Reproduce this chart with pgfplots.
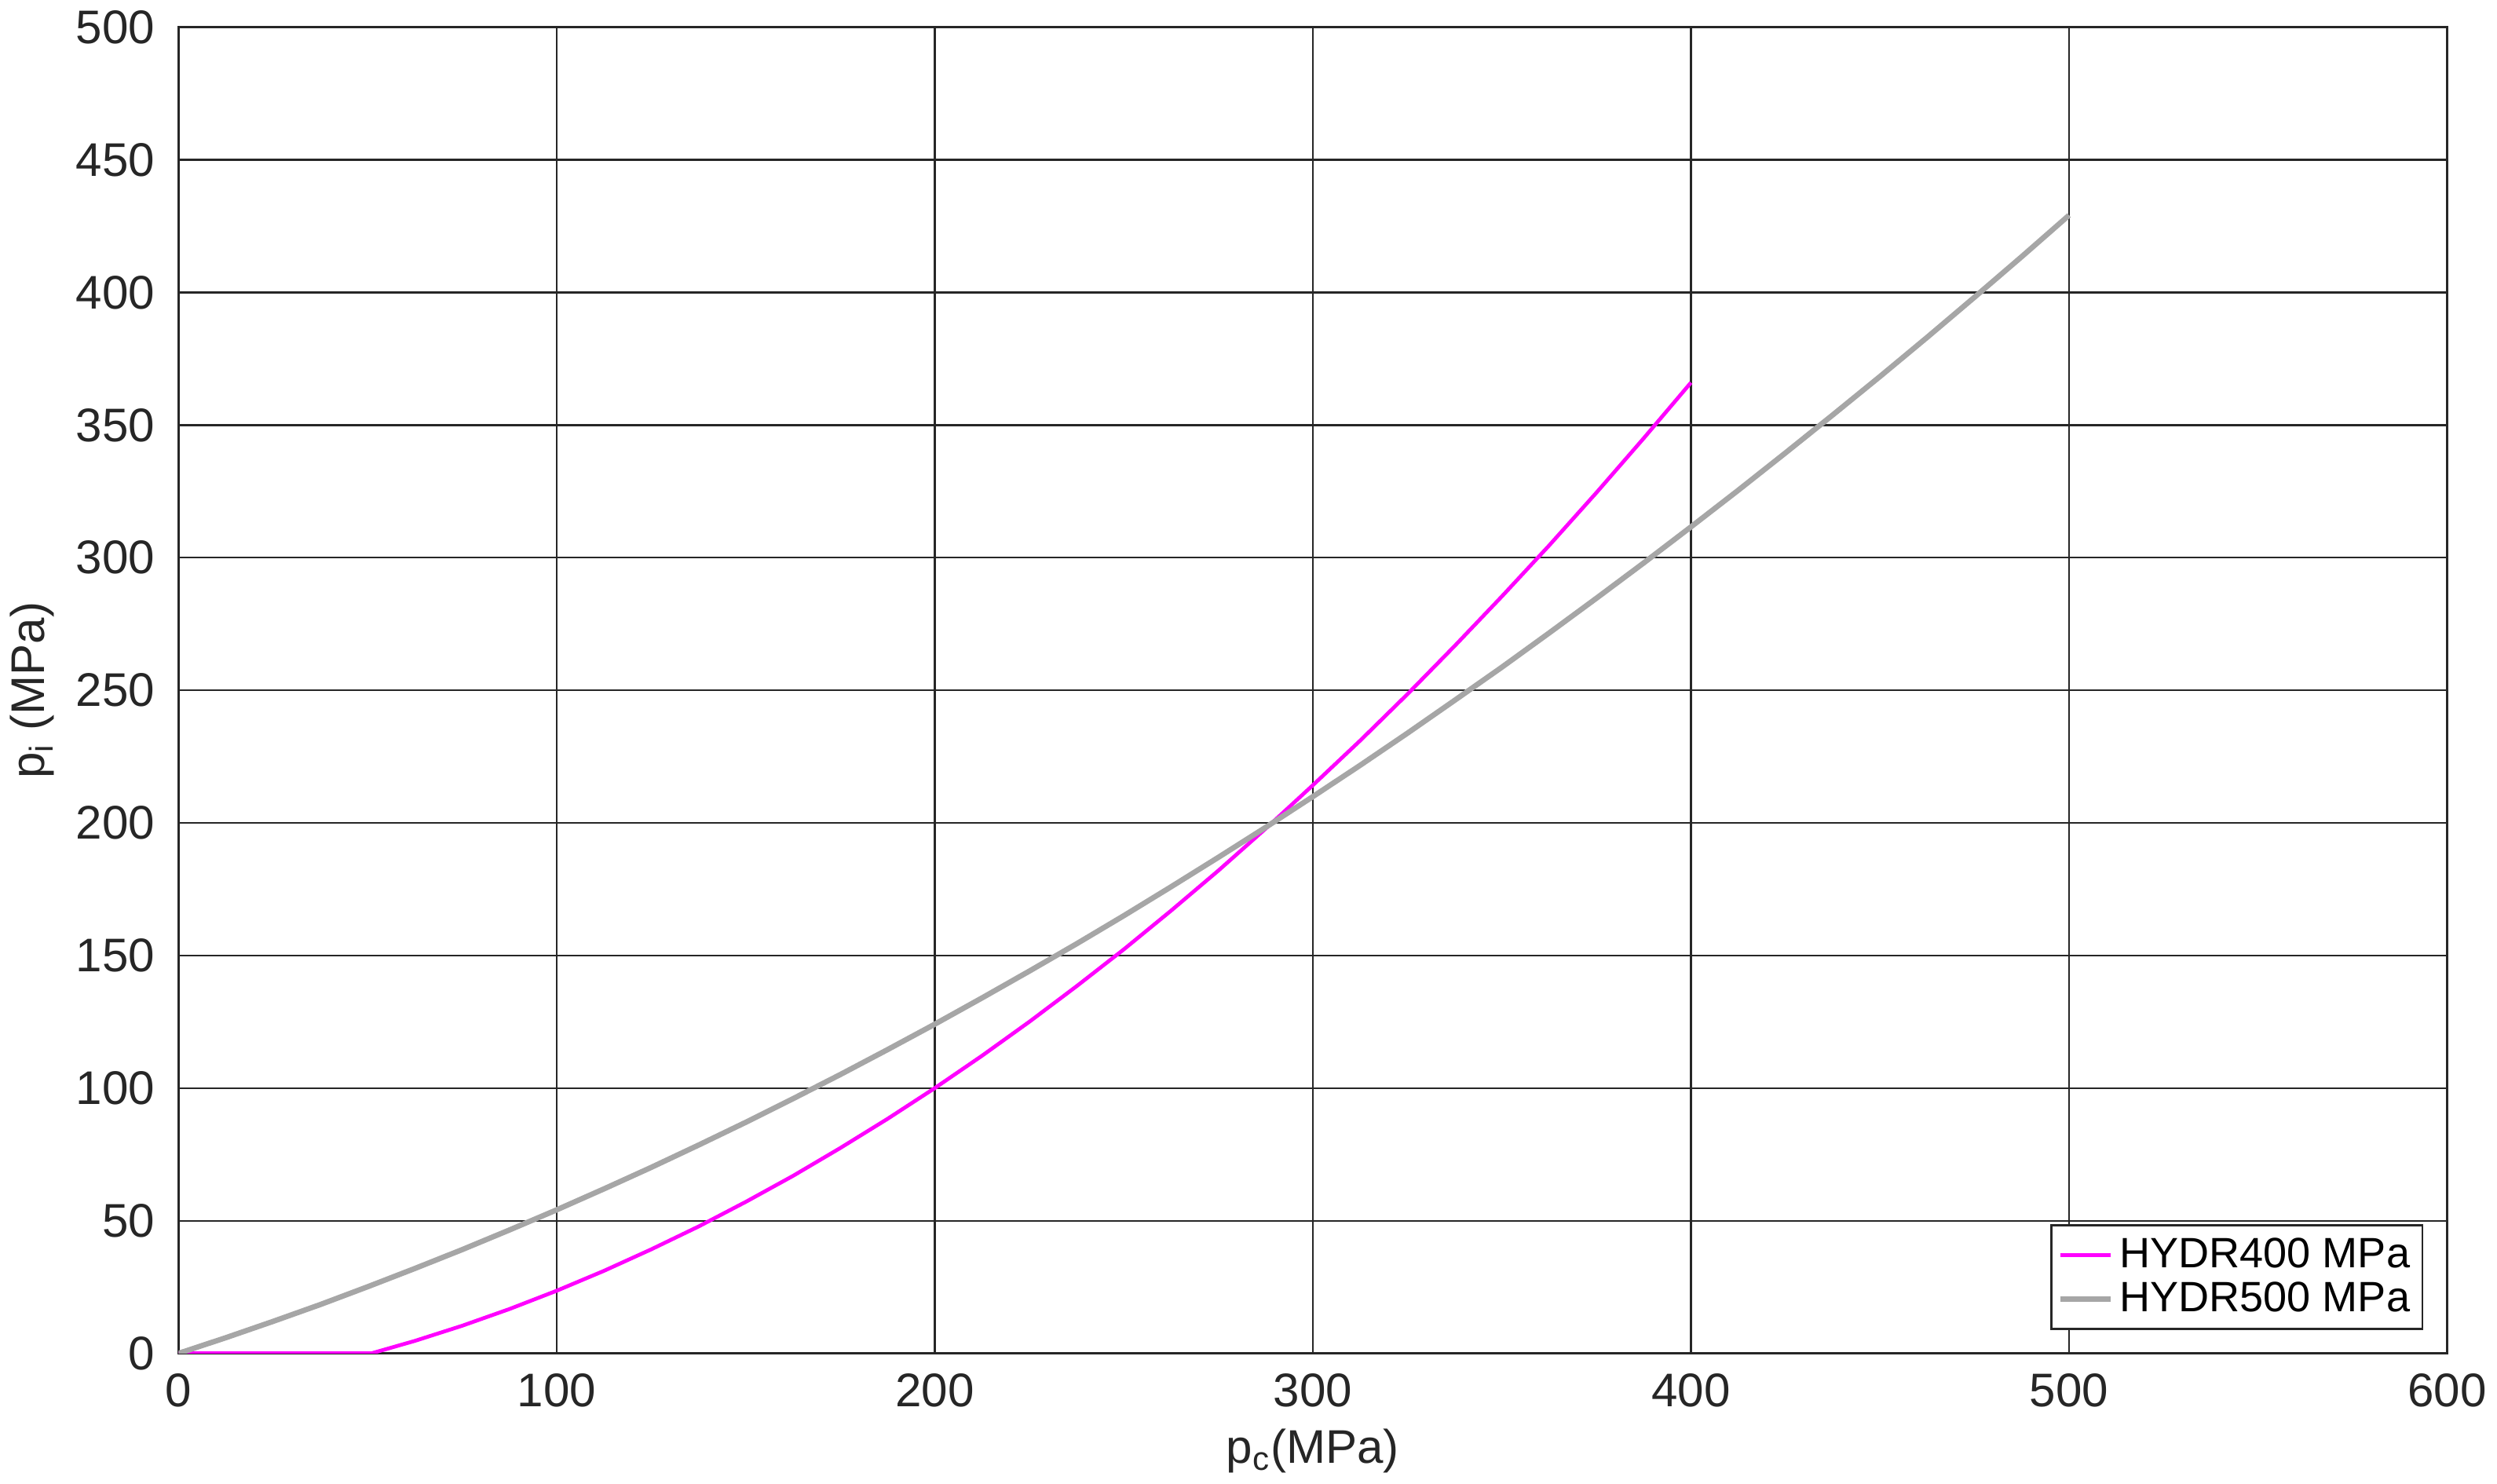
\documentclass[border=0pt]{standalone}
\usepackage{pgfplots}
\pgfplotsset{compat=1.18}
\usepackage{fontspec}
\setmainfont{Liberation Sans}
\definecolor{axgray}{HTML}{262626}
\definecolor{hydrgray}{HTML}{A6A6A6}
\definecolor{hydrmag}{HTML}{FF00FF}

\begin{document}
\begin{tikzpicture}
\begin{axis}[
    scale only axis,
    width=721pt, height=421.5pt,
    xmin=0, xmax=600, ymin=0, ymax=500,
    xtick distance=100, ytick distance=50,
    grid=major,
    grid style={line width=0.6pt, color=axgray},
    axis line style={line width=0.6pt, color=axgray},
    tick align=inside, major tick length=5pt,
    tick style={line width=0.6pt, color=axgray},
    /pgf/number format/assume math mode=true,
    tick label style={font=\fontsize{15}{18}\selectfont, color=axgray},
    xticklabel shift=3pt, yticklabel shift=4pt,
    label style={font=\fontsize{15}{18}\selectfont, color=axgray},
    xlabel={p\textsubscript{c}(MPa)},
    ylabel={p\textsubscript{i} (MPa)},
    legend style={font=\fontsize{13.5}{15.5}\selectfont, at={(0.9896,0.0178)}, anchor=south east,
        draw=axgray, line width=0.6pt, inner sep=2pt, row sep=-1pt},
    legend cell align=left,
    legend image code/.code={\draw[#1] (0pt,0pt) -- (16pt,0pt);},
]
\addplot[color=hydrmag, line width=1.2pt] coordinates {
(0,0) (51,0) (62.5,4.7) (75,10.4) (87.5,16.7) (100,23.6) (112.5,31.1) (125,39.2)
(137.5,47.8) (150,57.1) (162.5,66.9) (175,77.4) (187.5,88.4) (200,100.0)
(212.5,112.2) (225,125.0) (237.5,138.4) (250,152.3) (262.5,166.9) (275,182.0)
(287.5,197.8) (300,214.2) (312.5,231.0) (325,248.5) (337.5,266.7) (350,285.4)
(362.5,304.6) (375,324.5) (387.5,345.0) (400,366.0)
};
\addlegendentry{HYDR400 MPa}
\addplot[color=hydrgray, line width=1.7pt] coordinates {
(0,0) (12.5,5.9) (25,12.05) (37.5,18.4) (50,25.1) (62.5,32.0) (75,39.1) (87.5,46.5)
(100,54.1) (112.5,62.0) (125,70.1) (137.5,78.5) (150,87.1) (162.5,96.0)
(175,105.1) (187.5,114.5) (200,124.1) (212.5,134.0) (225,144.1) (237.5,154.4)
(250,165.0) (262.5,175.9) (275,187.0) (287.5,198.3) (300,209.9) (312.5,221.7)
(325,233.8) (337.5,246.2) (350,258.7) (362.5,271.6) (375,284.7) (387.5,298.0)
(400,311.6) (412.5,325.4) (425,339.5) (437.5,353.8) (450,368.3) (462.5,383.1)
(475,398.2) (487.5,413.5) (500,429.1)
};
\addlegendentry{HYDR500 MPa}
\end{axis}
\end{tikzpicture}
\end{document}
